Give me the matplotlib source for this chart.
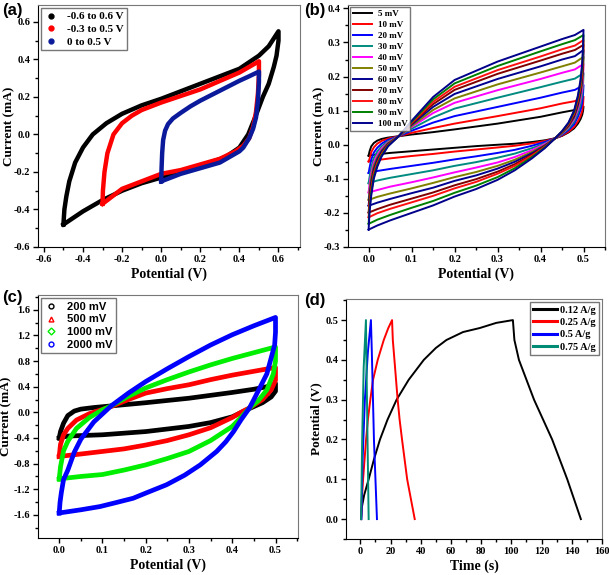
import matplotlib

matplotlib.use("Agg")
import matplotlib.pyplot as plt
from matplotlib.lines import Line2D
from matplotlib.ticker import FormatStrFormatter, MultipleLocator

plt.rcParams["font.family"] = ["Liberation Serif", "DejaVu Serif"]
plt.rcParams["font.weight"] = "bold"
plt.rcParams["axes.unicode_minus"] = False

# ---- panel (a): CV at different potential windows ----
a_black_up_v = [-0.5, -0.495, -0.485, -0.47, -0.44, -0.4, -0.35, -0.28, -0.2, -0.1, 0.0, 0.1, 0.2, 0.3, 0.4, 0.5, 0.55, 0.6]
a_black_up_i = [-0.48, -0.40, -0.33, -0.25, -0.15, -0.07, 0.0, 0.06, 0.11, 0.155, 0.19, 0.23, 0.27, 0.31, 0.35, 0.42, 0.47, 0.55]
a_black_dn_v = [0.6, 0.6, 0.59, 0.576, 0.55, 0.52, 0.48, 0.445, 0.4, 0.33, 0.2, 0.1, 0.0, -0.1, -0.2, -0.3, -0.4, -0.5]
a_black_dn_i = [0.55, 0.50, 0.42, 0.36, 0.27, 0.2, 0.09, 0.0, -0.07, -0.12, -0.17, -0.2, -0.23, -0.26, -0.30, -0.35, -0.41, -0.48]

a_red_up_v = [-0.3, -0.298, -0.29, -0.275, -0.244, -0.2, -0.15, -0.1, 0.0, 0.1, 0.2, 0.3, 0.4, 0.45, 0.5]
a_red_up_i = [-0.37, -0.30, -0.2, -0.1, 0.0, 0.06, 0.1, 0.13, 0.17, 0.205, 0.24, 0.285, 0.33, 0.36, 0.39]
a_red_dn_v = [0.5, 0.5, 0.495, 0.485, 0.47, 0.45, 0.42, 0.38, 0.3, 0.2, 0.1, 0.0, -0.1, -0.2, -0.3]
a_red_dn_i = [0.39, 0.32, 0.22, 0.12, 0.04, -0.02, -0.06, -0.09, -0.13, -0.16, -0.19, -0.21, -0.25, -0.29, -0.37]

a_blue_up_v = [0.0, 0.002, 0.005, 0.01, 0.02, 0.035, 0.06, 0.1, 0.15, 0.2, 0.3, 0.4, 0.45, 0.5]
a_blue_up_i = [-0.25, -0.18, -0.10, -0.03, 0.02, 0.055, 0.085, 0.115, 0.15, 0.18, 0.233, 0.286, 0.31, 0.335]
a_blue_dn_v = [0.5, 0.5, 0.495, 0.485, 0.47, 0.45, 0.42, 0.4, 0.3, 0.2, 0.1, 0.0]
a_blue_dn_i = [0.335, 0.28, 0.18, 0.09, 0.03, -0.02, -0.07, -0.09, -0.15, -0.18, -0.21, -0.25]

# ---- panel (b): CV at scan rates 5-100 mV ----
b_labels = ["5 mV", "10 mV", "20 mV", "30 mV", "40 mV", "50 mV", "60 mV", "70 mV", "80 mV", "90 mV", "100 mV"]
b_colors = ["#000000", "#ff0000", "#0000ff", "#008b80", "#ff00ff", "#808000", "#000090", "#800000", "#ff1010", "#008000", "#00008b"]
b_up_v = [0.0, 0.002, 0.006, 0.012, 0.02, 0.03, 0.045, 0.07, 0.1, 0.15, 0.2, 0.3, 0.4, 0.45, 0.48, 0.5]
b_up_i = [
    [-0.032, -0.02, -0.005, 0.005, 0.012, 0.017, 0.021, 0.025, 0.03, 0.037, 0.045, 0.062, 0.082, 0.095, 0.102, 0.112],
    [-0.049, -0.042, -0.022, -0.008, 0.003, 0.011, 0.018, 0.025, 0.035, 0.049, 0.062, 0.084, 0.107, 0.121, 0.128, 0.141],
    [-0.083, -0.069, -0.044, -0.023, -0.009, 0.003, 0.014, 0.025, 0.041, 0.065, 0.084, 0.111, 0.138, 0.153, 0.161, 0.175],
    [-0.113, -0.096, -0.066, -0.039, -0.020, -0.005, 0.010, 0.025, 0.047, 0.080, 0.106, 0.138, 0.169, 0.185, 0.194, 0.21],
    [-0.14, -0.117, -0.083, -0.052, -0.030, -0.011, 0.007, 0.025, 0.052, 0.093, 0.123, 0.160, 0.193, 0.211, 0.221, 0.237],
    [-0.162, -0.133, -0.096, -0.061, -0.037, -0.016, 0.005, 0.025, 0.055, 0.102, 0.136, 0.177, 0.212, 0.230, 0.241, 0.258],
    [-0.179, -0.150, -0.109, -0.071, -0.043, -0.020, 0.002, 0.025, 0.059, 0.111, 0.149, 0.193, 0.230, 0.250, 0.260, 0.278],
    [-0.199, -0.164, -0.121, -0.079, -0.050, -0.025, 0.0, 0.025, 0.062, 0.119, 0.161, 0.208, 0.247, 0.267, 0.278, 0.293],
    [-0.213, -0.175, -0.130, -0.085, -0.054, -0.028, -0.001, 0.025, 0.064, 0.126, 0.170, 0.219, 0.259, 0.280, 0.291, 0.307],
    [-0.232, -0.187, -0.140, -0.093, -0.060, -0.031, -0.003, 0.025, 0.067, 0.133, 0.180, 0.231, 0.274, 0.295, 0.307, 0.322],
    [-0.249, -0.20, -0.15, -0.10, -0.065, -0.035, -0.005, 0.025, 0.07, 0.14, 0.19, 0.244, 0.288, 0.31, 0.322, 0.337],
]
b_dn_v = [0.5, 0.499, 0.497, 0.493, 0.487, 0.478, 0.465, 0.45, 0.434, 0.41, 0.38, 0.34, 0.3, 0.25, 0.2, 0.15, 0.1, 0.05, 0.02, 0.0]
b_dn_i = [
    [0.112, 0.10, 0.088, 0.075, 0.062, 0.048, 0.036, 0.026, 0.019, 0.013, 0.008, 0.003, 0.0, -0.004, -0.009, -0.014, -0.019, -0.024, -0.028, -0.032],
    [0.141, 0.118, 0.100, 0.084, 0.069, 0.052, 0.038, 0.027, 0.019, 0.011, 0.004, -0.003, -0.008, -0.014, -0.020, -0.027, -0.033, -0.040, -0.045, -0.049],
    [0.175, 0.150, 0.124, 0.102, 0.082, 0.060, 0.043, 0.029, 0.019, 0.008, -0.003, -0.015, -0.024, -0.034, -0.043, -0.053, -0.062, -0.071, -0.077, -0.083],
    [0.21, 0.178, 0.144, 0.118, 0.093, 0.067, 0.047, 0.031, 0.019, 0.004, -0.010, -0.026, -0.038, -0.051, -0.062, -0.075, -0.086, -0.097, -0.105, -0.113],
    [0.237, 0.201, 0.164, 0.133, 0.104, 0.074, 0.051, 0.033, 0.019, 0.002, -0.016, -0.036, -0.052, -0.067, -0.081, -0.096, -0.110, -0.123, -0.133, -0.14],
    [0.258, 0.218, 0.180, 0.144, 0.112, 0.079, 0.053, 0.034, 0.019, -0.001, -0.021, -0.044, -0.062, -0.080, -0.095, -0.112, -0.128, -0.143, -0.153, -0.162],
    [0.278, 0.235, 0.193, 0.153, 0.118, 0.083, 0.056, 0.036, 0.019, -0.003, -0.025, -0.050, -0.070, -0.090, -0.106, -0.126, -0.142, -0.159, -0.170, -0.179],
    [0.293, 0.252, 0.205, 0.164, 0.126, 0.088, 0.058, 0.037, 0.019, -0.005, -0.029, -0.057, -0.079, -0.101, -0.119, -0.140, -0.158, -0.176, -0.189, -0.199],
    [0.307, 0.263, 0.214, 0.170, 0.131, 0.091, 0.060, 0.038, 0.019, -0.006, -0.032, -0.062, -0.085, -0.109, -0.128, -0.150, -0.169, -0.188, -0.201, -0.213],
    [0.322, 0.277, 0.229, 0.182, 0.139, 0.096, 0.063, 0.039, 0.019, -0.008, -0.036, -0.069, -0.095, -0.120, -0.141, -0.165, -0.185, -0.206, -0.220, -0.232],
    [0.337, 0.29, 0.24, 0.19, 0.145, 0.10, 0.065, 0.04, 0.019, -0.01, -0.04, -0.075, -0.103, -0.13, -0.152, -0.178, -0.2, -0.222, -0.237, -0.249],
]

# ---- panel (c): CV at high scan rates ----
c_labels = ["200 mV", "500 mV", "1000 mV", "2000 mV"]
c_colors = ["#000000", "#ff0000", "#00ee00", "#0000ff"]
c_markers = ["o", "^", "D", "o"]
c_up_v = [
    [0.0, 0.003, 0.01, 0.02, 0.035, 0.05, 0.08, 0.12, 0.2, 0.3, 0.4, 0.45, 0.48, 0.5],
    [0.0, 0.003, 0.01, 0.02, 0.04, 0.07, 0.12, 0.16, 0.2, 0.25, 0.3, 0.35, 0.4, 0.45, 0.5],
    [0.0, 0.003, 0.01, 0.02, 0.04, 0.07, 0.1, 0.12, 0.16, 0.2, 0.25, 0.3, 0.35, 0.4, 0.45, 0.5],
    [0.0, 0.002, 0.005, 0.01, 0.02, 0.035, 0.05, 0.08, 0.12, 0.16, 0.2, 0.25, 0.3, 0.35, 0.4, 0.45, 0.5],
]
c_up_i = [
    [-0.40, -0.30, -0.17, -0.05, 0.02, 0.05, 0.075, 0.1, 0.15, 0.22, 0.31, 0.36, 0.40, 0.45],
    [-0.69, -0.50, -0.35, -0.25, -0.12, -0.02, 0.09, 0.20, 0.30, 0.37, 0.43, 0.51, 0.58, 0.64, 0.70],
    [-1.04, -0.85, -0.60, -0.45, -0.25, -0.08, 0.04, 0.10, 0.25, 0.38, 0.51, 0.63, 0.74, 0.84, 0.93, 1.02],
    [-1.57, -1.40, -1.25, -1.05, -0.90, -0.62, -0.42, -0.15, 0.10, 0.30, 0.48, 0.68, 0.87, 1.05, 1.21, 1.35, 1.48],
]
c_dn_v = [
    [0.5, 0.5, 0.49, 0.47, 0.44, 0.4, 0.35, 0.3, 0.2, 0.1, 0.02, 0.0],
    [0.5, 0.5, 0.49, 0.47, 0.44, 0.42, 0.4, 0.35, 0.3, 0.25, 0.2, 0.15, 0.1, 0.05, 0.01, 0.0],
    [0.5, 0.5, 0.495, 0.48, 0.46, 0.44, 0.42, 0.4, 0.35, 0.3, 0.25, 0.2, 0.15, 0.1, 0.05, 0.01, 0.0],
    [0.5, 0.5, 0.498, 0.49, 0.48, 0.465, 0.45, 0.44, 0.42, 0.403, 0.385, 0.364, 0.326, 0.29, 0.248, 0.2, 0.171, 0.13, 0.094, 0.05, 0.0],
]
c_dn_i = [
    [0.45, 0.33, 0.24, 0.15, 0.06, -0.07, -0.16, -0.22, -0.30, -0.35, -0.37, -0.40],
    [0.70, 0.50, 0.35, 0.20, 0.07, 0.0, -0.08, -0.24, -0.35, -0.44, -0.51, -0.57, -0.61, -0.65, -0.68, -0.69],
    [1.02, 0.80, 0.60, 0.35, 0.18, 0.07, -0.08, -0.22, -0.44, -0.61, -0.72, -0.82, -0.90, -0.97, -1.0, -1.03, -1.04],
    [1.48, 1.25, 1.05, 0.85, 0.60, 0.40, 0.20, 0.07, -0.12, -0.30, -0.46, -0.61, -0.82, -0.98, -1.13, -1.26, -1.34, -1.41, -1.47, -1.52, -1.57],
]

# ---- panel (d): galvanostatic charge-discharge ----
d_labels = ["0.12 A/g", "0.25 A/g", "0.5 A/g", "0.75 A/g"]
d_colors = ["#000000", "#ff0000", "#0000ff", "#008b74"]
d_time = [
    [0.5, 1, 2.5, 5.5, 9, 13, 18, 24, 32, 42, 50, 57, 68, 79, 90, 101,
     102, 105, 110, 115, 121, 127, 132, 137, 141.5, 146],
    [0.5, 1, 1.8, 2.8, 3.8, 5, 6.6, 8.4, 11.5, 15.5, 18.5, 21,
     21.5, 23, 24.7, 26, 27.6, 29.3, 31, 33.5, 36],
    [0.7, 1.5, 3, 5, 7, 7.6, 9, 11],
    [0.5, 1.2, 2.2, 3.7, 4.2, 5.5],
]
d_pot = [
    [0.0, 0.03, 0.06, 0.1, 0.15, 0.2, 0.25, 0.3, 0.35, 0.4, 0.43, 0.45, 0.47, 0.48, 0.493, 0.5,
     0.45, 0.4, 0.35, 0.3, 0.25, 0.2, 0.15, 0.1, 0.05, 0.0],
    [0.0, 0.05, 0.1, 0.15, 0.2, 0.25, 0.3, 0.35, 0.4, 0.45, 0.48, 0.5,
     0.45, 0.38, 0.3, 0.25, 0.2, 0.15, 0.1, 0.05, 0.0],
    [0.0, 0.15, 0.3, 0.42, 0.5, 0.42, 0.2, 0.0],
    [0.0, 0.2, 0.38, 0.5, 0.35, 0.0],
]

W, H = 609, 575
fig = plt.figure(figsize=(W / 100, H / 100), dpi=100)


def add_axes_px(left, top, right, bottom):
    return fig.add_axes([left / W, 1 - bottom / H, (right - left) / W, (bottom - top) / H])


def style_axes(ax, xmaj, ymaj, xlabel, ylabel, ylabel_x):
    ax.xaxis.set_major_locator(MultipleLocator(xmaj))
    ax.xaxis.set_minor_locator(MultipleLocator(xmaj / 2))
    ax.yaxis.set_major_locator(MultipleLocator(ymaj))
    ax.yaxis.set_minor_locator(MultipleLocator(ymaj / 2))
    ax.tick_params(which="both", direction="out", labelsize=7.5, width=1, pad=2)
    ax.tick_params(which="major", length=3.5)
    ax.tick_params(which="minor", length=2)
    for spine in ["top", "right"]:
        ax.spines[spine].set_color("#777777")
    ax.set_xlabel(xlabel, fontsize=10, fontweight="bold", labelpad=3)
    ax.set_ylabel(ylabel, fontsize=9.5, fontweight="bold")
    # label anchor is the right edge of the rotated text
    ax.yaxis.set_label_coords(ylabel_x, 0.5)
    for lab in ax.get_xticklabels() + ax.get_yticklabels():
        lab.set_fontweight("bold")


# (a)
ax = add_axes_px(38, 5, 300, 247)
for v_up, i_up, v_dn, i_dn, col in [
    (a_black_up_v, a_black_up_i, a_black_dn_v, a_black_dn_i, "#000000"),
    (a_red_up_v, a_red_up_i, a_red_dn_v, a_red_dn_i, "#ff0000"),
    (a_blue_up_v, a_blue_up_i, a_blue_dn_v, a_blue_dn_i, "#0a1a9a"),
]:
    ax.plot(v_up + v_dn, i_up + i_dn, color=col, lw=3.2, solid_joinstyle="round")
ax.set_xlim(-0.63, 0.71)
ax.set_ylim(-0.6, 0.69)
ax.xaxis.set_major_formatter(FormatStrFormatter("%.1f"))
ax.yaxis.set_major_formatter(FormatStrFormatter("%.1f"))
style_axes(ax, 0.2, 0.2, "Potential (V)", "Current (mA)", -0.085)
handles = [Line2D([], [], ls="", marker="o", ms=3.5, color=c) for c in ["#000000", "#ff0000", "#0a1a9a"]]
ax.legend(handles, ["-0.6 to 0.6 V", "-0.3 to 0.5 V", "0 to 0.5 V"], loc="upper left",
          prop={"weight": "bold", "size": 8}, fancybox=False, edgecolor="#555555",
          borderaxespad=0.3, handletextpad=0.8, labelspacing=0.25, handlelength=1.2, borderpad=0.3)

# (b)
ax = add_axes_px(348, 5, 605, 247)
for i in range(len(b_labels)):
    ax.plot(b_up_v + b_dn_v, b_up_i[i] + b_dn_i[i], color=b_colors[i], lw=1.4, label=b_labels[i])
ax.set_xlim(-0.048, 0.55)
ax.set_ylim(-0.3, 0.41)
ax.xaxis.set_major_formatter(FormatStrFormatter("%.1f"))
ax.yaxis.set_major_formatter(FormatStrFormatter("%.1f"))
style_axes(ax, 0.1, 0.1, "Potential (V)", "Current (mA)", -0.09)
ax.legend(loc="upper left", prop={"weight": "bold", "size": 6.5}, fancybox=False, edgecolor="#555555",
          borderaxespad=0.2, handlelength=2.2, handletextpad=0.6, labelspacing=0.3, borderpad=0.3)

# (c)
ax = add_axes_px(38, 295, 298, 538)
for i in range(len(c_labels)):
    ax.plot(c_up_v[i] + c_dn_v[i], c_up_i[i] + c_dn_i[i], color=c_colors[i], lw=3.4, solid_joinstyle="round")
ax.set_xlim(-0.049, 0.552)
ax.set_ylim(-1.96, 1.83)
ax.xaxis.set_major_formatter(FormatStrFormatter("%.1f"))
ax.yaxis.set_major_formatter(FormatStrFormatter("%.1f"))
style_axes(ax, 0.1, 0.4, "Potential (V)", "Current (mA)", -0.098)
handles = [Line2D([], [], ls="", marker=m, ms=3.5, mfc="none", mew=1, color=c) for m, c in zip(c_markers, c_colors)]
ax.legend(handles, c_labels, loc="upper left",
          prop={"family": ["Liberation Sans", "DejaVu Sans"], "weight": "bold", "size": 8},
          fancybox=False, edgecolor="#555555", borderaxespad=0.3, handletextpad=0.8,
          labelspacing=0.25, handlelength=1.2, borderpad=0.3)

# (d)
ax = add_axes_px(346, 299, 602, 539)
for i in range(len(d_labels)):
    ax.plot(d_time[i], d_pot[i], color=d_colors[i], lw=1.4, label=d_labels[i])
ax.set_xlim(-9.5, 160)
ax.set_ylim(-0.05, 0.553)
ax.yaxis.set_major_formatter(FormatStrFormatter("%.1f"))
style_axes(ax, 20, 0.1, "Time (s)", "Potential (V)", -0.094)
ax.legend(loc="upper right", prop={"weight": "bold", "size": 7.5}, fancybox=False, edgecolor="#555555",
          borderaxespad=0.3, handlelength=2.3, handletextpad=0.3, labelspacing=0.3, borderpad=0.3)
for h in ax.get_legend().get_lines():
    h.set_linewidth(2.2)

for label, x, y in [("(a)", 2, 3), ("(b)", 304, 3), ("(c)", 2, 290), ("(d)", 304, 293)]:
    fig.text(x / W, 1 - y / H, label, fontsize=12, fontweight="bold", va="top", ha="left",
             family=["Liberation Sans", "DejaVu Sans"])

fig.savefig("out.png", dpi=100)
